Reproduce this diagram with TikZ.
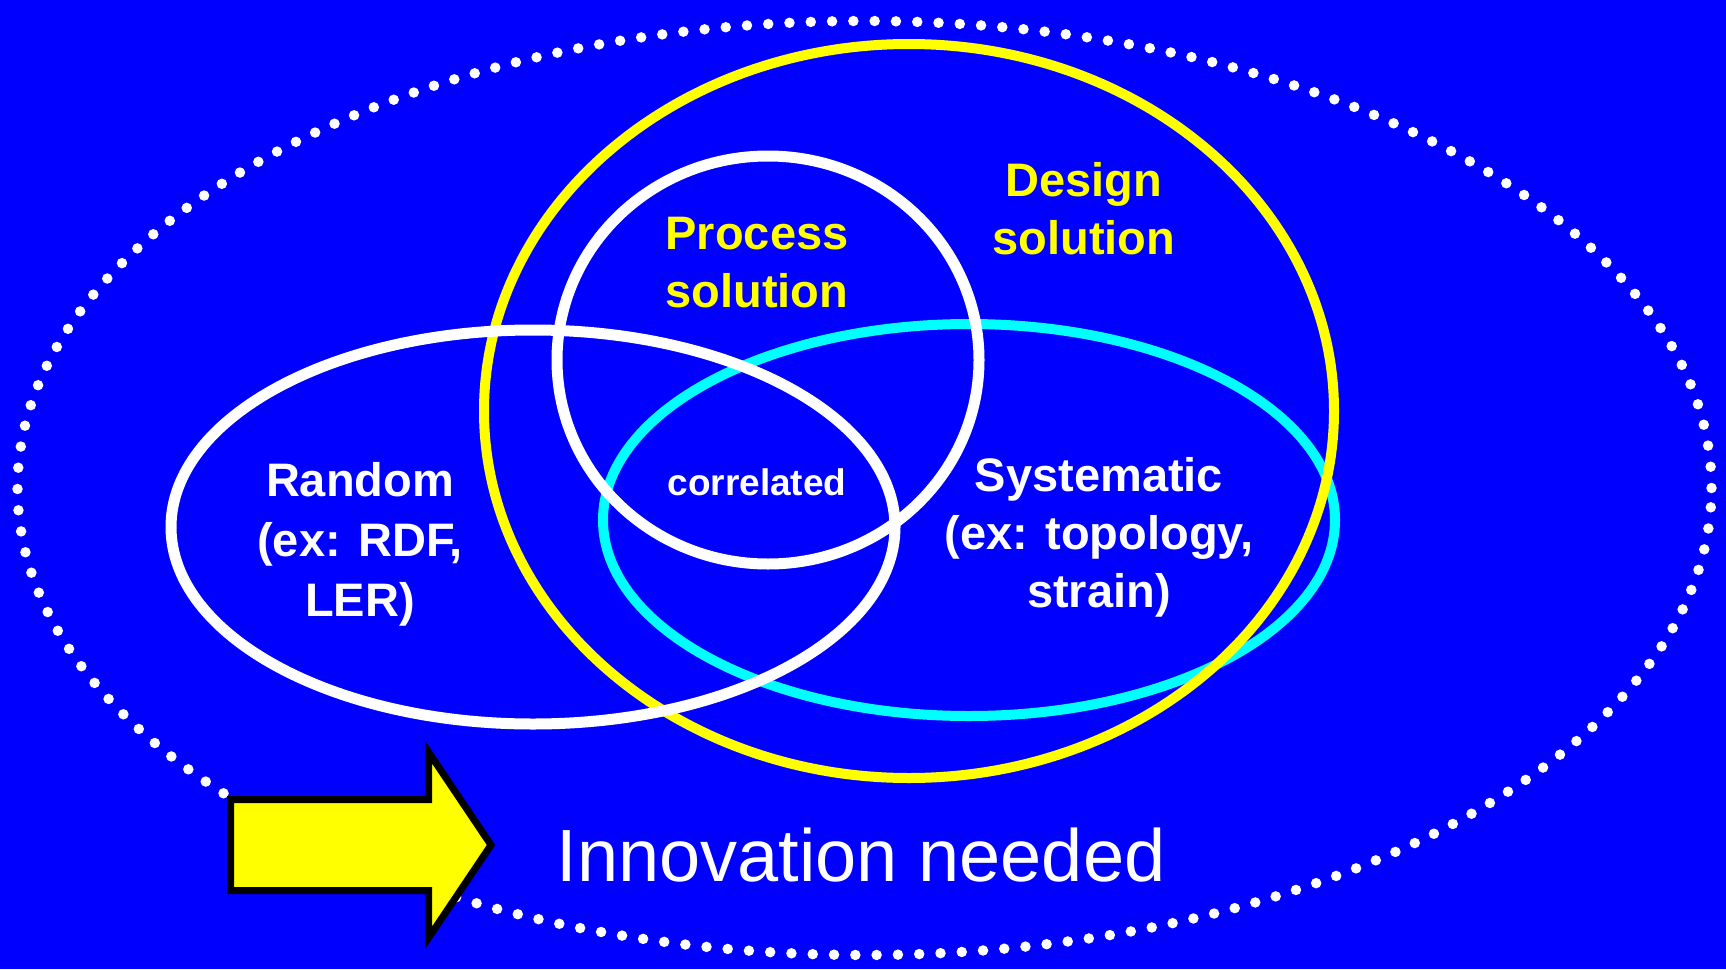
\documentclass[tikz,border=0pt]{standalone}
\usepackage{fontspec}
\setmainfont{Liberation Sans}
\usepackage{tikz}
\definecolor{slideblue}{RGB}{0,0,255}
\definecolor{ringyellow}{RGB}{255,255,0}
\definecolor{ringcyan}{RGB}{0,255,255}
\tikzset{
  ring/.style={line width=10pt},
  label/.style={align=center, inner sep=0pt, font=\bfseries\fontsize{47}{58}\selectfont}
}

\begin{document}
\begin{tikzpicture}[x=1pt, y=-1pt]
% background
\fill[slideblue] (0,0) rectangle (1726,969);
\useasboundingbox (0,0) rectangle (1726,969);

% dotted outer boundary
\draw[white, line width=10.5pt, line cap=round, dash pattern=on 0pt off 21.3pt]
  (864.5,488) ellipse [x radius=847pt, y radius=467pt];

% systematic
\draw[ring, ringcyan] (969,520) ellipse [x radius=366pt, y radius=196pt];
% design solution
\draw[ring, ringyellow] (909,411) ellipse [x radius=425pt, y radius=367pt];
% process solution
\draw[ring, white, line width=11pt] (768,360) ellipse [x radius=211pt, y radius=204pt];
% random
\draw[ring, white, line width=11pt] (533,527) ellipse [x radius=362pt, y radius=197pt];

% labels
\node[label, ringyellow] (process) at (757,263) {Process\\solution};
\node[label, ringyellow] (design) at (1084,209) {Design\\solution};
\node[label, white, font=\bfseries\fontsize{47}{60}\selectfont] (random) at (360,544) {Random\\(ex: RDF,\\LER)};
\node[label, white] (systematic) at (1099,537) {Systematic\\(ex: topology,\\strain)};
\node[white, inner sep=0pt, font=\bfseries\fontsize{37}{44}\selectfont] (correlated) at (757,482) {correlated};

% arrow
\draw[black, fill=ringyellow, line width=7pt, line join=miter]
  (230.5,799.5) -- (428.5,799.5) -- (428.5,752) -- (491,845)
  -- (428.5,938) -- (428.5,890.5) -- (230.5,890.5) -- cycle;
\node[white, inner sep=0pt, font=\fontsize{74}{88}\selectfont] (innovation) at (861,855) {Innovation needed};
\end{tikzpicture}
\end{document}
